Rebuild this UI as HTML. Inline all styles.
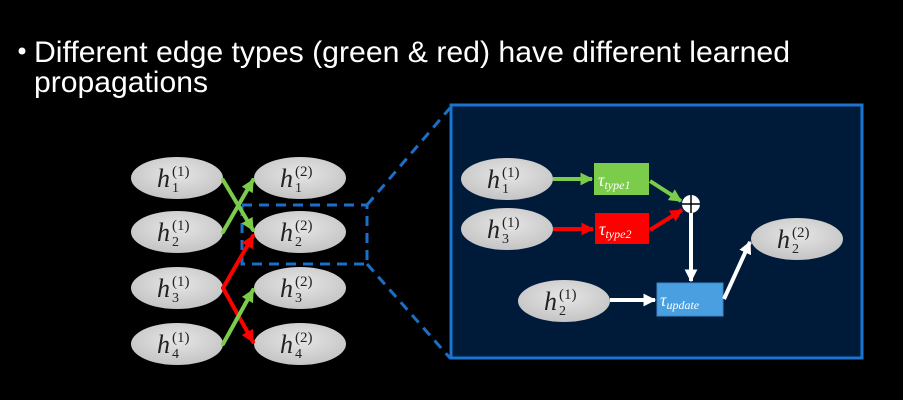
<!DOCTYPE html>
<html><head><meta charset="utf-8"><style>html,body{margin:0;padding:0;background:#000}svg{display:block}</style></head>
<body>
<svg width="903" height="400" viewBox="0 0 903 400" xmlns="http://www.w3.org/2000/svg">
<defs>
<radialGradient id="eg" cx="50%" cy="40%" r="60%">
<stop offset="0" stop-color="#e6e6e6"/><stop offset="1" stop-color="#c4c4c4"/>
</radialGradient>
<marker id="ag" viewBox="0 0 10 10" refX="9" refY="5" markerWidth="3.2" markerHeight="3.2" orient="auto"><path d="M0,0L10,5L0,10z" fill="#7ccc4c"/></marker>
<marker id="ar" viewBox="0 0 10 10" refX="9" refY="5" markerWidth="3.2" markerHeight="3.2" orient="auto"><path d="M0,0L10,5L0,10z" fill="#ff0000"/></marker>
<marker id="aw" viewBox="0 0 10 10" refX="9" refY="5" markerWidth="3.2" markerHeight="3.2" orient="auto"><path d="M0,0L10,5L0,10z" fill="#ffffff"/></marker>
<g id="hx"><ellipse cx="0" cy="0" rx="46" ry="21" fill="url(#eg)"/></g>
</defs>
<rect width="903" height="400" fill="#000"/>
<g font-family="'Liberation Sans',sans-serif" fill="#fff" font-size="30">
<circle cx="22" cy="51" r="3.5" fill="#fff"/>
<text x="34" y="62" textLength="756" lengthAdjust="spacingAndGlyphs">Different edge types (green &amp; red) have different learned</text>
<text x="34" y="92" textLength="174" lengthAdjust="spacingAndGlyphs">propagations</text>
</g>

<!-- right box -->
<rect x="451" y="105" width="411" height="253" fill="#001a3a" stroke="#1a75d2" stroke-width="3"/>
<!-- dashed -->
<g stroke="#1a6fc8" stroke-width="3" stroke-dasharray="10,7" fill="none">
<rect x="242" y="205" width="125" height="59"/>
<line x1="367" y1="205" x2="450" y2="108"/>
<line x1="367" y1="264" x2="450" y2="358"/>
</g>

<!-- left ellipses -->
<g font-family="'Liberation Serif',serif" fill="#222">
<g transform="translate(177,178)"><use href="#hx"/><text x="-20" y="9" font-size="26" font-style="italic">h</text><text x="-5" y="14" font-size="14">1</text><text x="-5" y="-2" font-size="15">(1)</text></g>
<g transform="translate(177,232)"><use href="#hx"/><text x="-20" y="9" font-size="26" font-style="italic">h</text><text x="-5" y="14" font-size="14">2</text><text x="-5" y="-2" font-size="15">(1)</text></g>
<g transform="translate(177,288)"><use href="#hx"/><text x="-20" y="9" font-size="26" font-style="italic">h</text><text x="-5" y="14" font-size="14">3</text><text x="-5" y="-2" font-size="15">(1)</text></g>
<g transform="translate(177,344)"><use href="#hx"/><text x="-20" y="9" font-size="26" font-style="italic">h</text><text x="-5" y="14" font-size="14">4</text><text x="-5" y="-2" font-size="15">(1)</text></g>
<g transform="translate(300,178)"><use href="#hx"/><text x="-20" y="9" font-size="26" font-style="italic">h</text><text x="-5" y="14" font-size="14">1</text><text x="-5" y="-2" font-size="15">(2)</text></g>
<g transform="translate(300,232)"><use href="#hx"/><text x="-20" y="9" font-size="26" font-style="italic">h</text><text x="-5" y="14" font-size="14">2</text><text x="-5" y="-2" font-size="15">(2)</text></g>
<g transform="translate(300,288)"><use href="#hx"/><text x="-20" y="9" font-size="26" font-style="italic">h</text><text x="-5" y="14" font-size="14">3</text><text x="-5" y="-2" font-size="15">(2)</text></g>
<g transform="translate(300,344)"><use href="#hx"/><text x="-20" y="9" font-size="26" font-style="italic">h</text><text x="-5" y="14" font-size="14">4</text><text x="-5" y="-2" font-size="15">(2)</text></g>
</g>
<g stroke-width="4" fill="none" stroke-linecap="round">
<line x1="223" y1="180" x2="253" y2="230" stroke="#7ccc4c" marker-end="url(#ag)"/>
<line x1="223" y1="232" x2="253" y2="180" stroke="#7ccc4c" marker-end="url(#ag)"/>
<line x1="223" y1="288" x2="253" y2="236" stroke="#ff0000" marker-end="url(#ar)"/>
<line x1="223" y1="288" x2="253" y2="342" stroke="#ff0000" marker-end="url(#ar)"/>
<line x1="223" y1="344" x2="253" y2="290" stroke="#7ccc4c" marker-end="url(#ag)"/>
</g>

<!-- right diagram -->
<g font-family="'Liberation Serif',serif" fill="#222">
<g transform="translate(507,179)"><use href="#hx"/><text x="-20" y="9" font-size="26" font-style="italic">h</text><text x="-5" y="14" font-size="14">1</text><text x="-5" y="-2" font-size="15">(1)</text></g>
<g transform="translate(507,229)"><use href="#hx"/><text x="-20" y="9" font-size="26" font-style="italic">h</text><text x="-5" y="14" font-size="14">3</text><text x="-5" y="-2" font-size="15">(1)</text></g>
<g transform="translate(564,301)"><use href="#hx"/><text x="-20" y="9" font-size="26" font-style="italic">h</text><text x="-5" y="14" font-size="14">2</text><text x="-5" y="-2" font-size="15">(1)</text></g>
<g transform="translate(797,239)"><use href="#hx"/><text x="-20" y="9" font-size="26" font-style="italic">h</text><text x="-5" y="14" font-size="14">2</text><text x="-5" y="-2" font-size="15">(2)</text></g>
</g>
<rect x="594" y="163" width="55" height="32" fill="#7ccc4c"/>
<rect x="595" y="213" width="54" height="31" fill="#ff0000"/>
<rect x="657" y="283" width="66" height="33" fill="#4a9fe0" stroke="#3a85c8" stroke-width="1"/>
<g font-family="'Liberation Serif',serif" fill="#fff" font-style="italic">
<text x="598" y="186" font-size="18">τ<tspan font-size="12" dy="3">type1</tspan></text>
<text x="599" y="235" font-size="18">τ<tspan font-size="12" dy="3">type2</tspan></text>
<text x="660" y="306" font-size="18">τ<tspan font-size="12" dy="3">update</tspan></text>
</g>
<circle cx="691" cy="204" r="9" fill="#fff"/>
<line x1="682" y1="204" x2="700" y2="204" stroke="#000" stroke-width="1.5"/>
<line x1="691" y1="195" x2="691" y2="213" stroke="#000" stroke-width="1.5"/>
<g stroke-width="4" fill="none">
<line x1="553" y1="179" x2="592" y2="179" stroke="#7ccc4c" marker-end="url(#ag)"/>
<line x1="553" y1="229" x2="593" y2="229" stroke="#ff0000" marker-end="url(#ar)"/>
<line x1="650" y1="181" x2="681" y2="201" stroke="#7ccc4c" marker-end="url(#ag)"/>
<line x1="650" y1="230" x2="682" y2="210" stroke="#ff0000" marker-end="url(#ar)"/>
<line x1="691" y1="213" x2="691" y2="281" stroke="#fff" marker-end="url(#aw)"/>
<line x1="610" y1="300" x2="655" y2="300" stroke="#fff" marker-end="url(#aw)"/>
<line x1="724" y1="299" x2="750" y2="242" stroke="#fff" marker-end="url(#aw)"/>
</g>
</svg>
</body></html>
